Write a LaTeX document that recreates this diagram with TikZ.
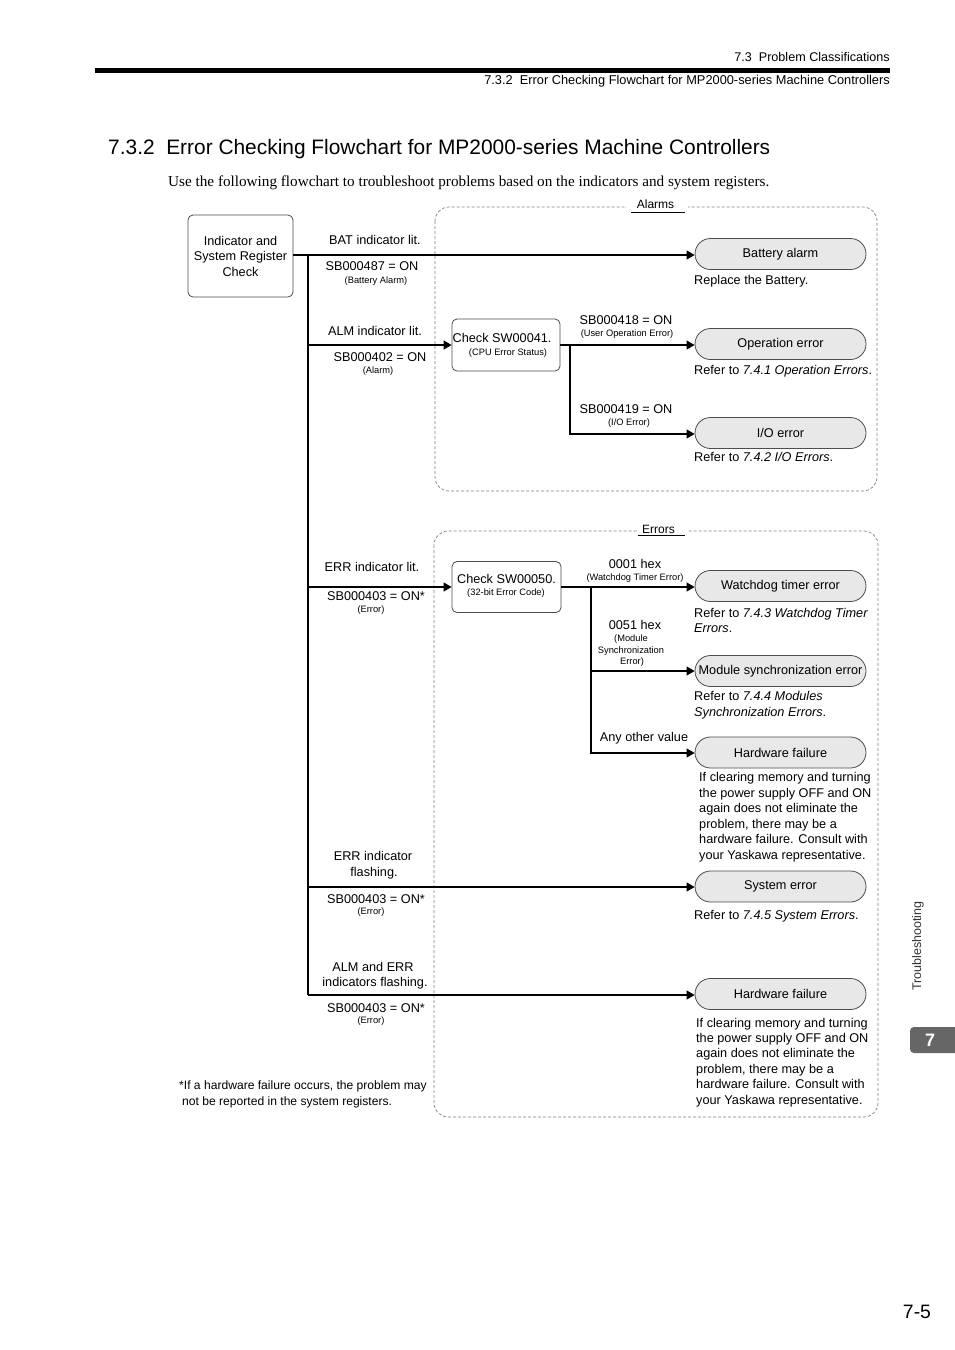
\documentclass[tikz,border=0pt]{standalone}
\usepackage{fontspec}
\setmainfont{Liberation Sans}
\newfontfamily\tmsfont{Liberation Serif}
\usetikzlibrary{arrows.meta}
\newcommand\fL{\fontsize{12.7}{15.5}\selectfont}
\newcommand\fS{\fontsize{9.3}{11.5}\selectfont}
\begin{document}
\begin{tikzpicture}[x=1pt,y=-1pt,
 lbl/.style={anchor=base,inner sep=0pt,font=\fL},
 sml/.style={anchor=base,inner sep=0pt,font=\fS},
 desc/.style={anchor=base west,inner sep=0pt,font=\fL},
 term/.style={draw=black!70,fill=black!9,rounded corners=15.5pt,minimum width=171pt,minimum height=31pt,inner sep=0pt,font=\fL,line width=0.8pt},
 chkbox/.style={draw=black!70,rounded corners=5pt,line width=0.8pt,inner sep=0pt},
 conn/.style={line width=1.1pt},
 arr/.style={conn,-{Triangle[length=8pt,width=9pt]}},
 grp/.style={draw=black!50,dash pattern=on 3pt off 2pt,rounded corners=14pt,line width=0.7pt}
]
\useasboundingbox[fill=white] (0,0) rectangle (954,1350);

% header
\node[anchor=base east,inner sep=0pt,font=\fontsize{12.6}{14}\selectfont] (hdr1) at (890,61.5) {7.3\ \ Problem Classifications};
\fill (95,67.7) rectangle (890,73.3);
\node[anchor=base east,inner sep=0pt,font=\fontsize{12.8}{14}\selectfont] (hdr2) at (890,84.5) {7.3.2\ \ Error Checking Flowchart for MP2000-series Machine Controllers};
\node[anchor=base west,inner sep=0pt,font=\fontsize{20.9}{24}\selectfont] (title) at (108,154.5) {7.3.2\ \ Error Checking Flowchart for MP2000-series Machine Controllers};
\node[anchor=base west,inner sep=0pt,font=\tmsfont\fontsize{15.2}{17}\selectfont] (intro) at (168,186) {Use the following flowchart to troubleshoot problems based on the indicators and system registers.};

% groups
\draw[grp] (435,207) rectangle (877,491);
\fill[white] (627,199) rectangle (688,212);
\node[lbl,font=\fontsize{12}{14}\selectfont] (alarmsLbl) at (655.5,208.5) {Alarms};
\draw[line width=1pt] (631,212.5) -- (685,212.5);

\draw[grp] (434,531) rectangle (878,1117);
\fill[white] (637,523) rectangle (688,535);
\node[lbl,font=\fontsize{12}{14}\selectfont] (errorsLbl) at (658.5,533.3) {Errors};
\draw[line width=1pt] (638,535.5) -- (685,535.5);

% start box
\node[chkbox,minimum width=105pt,minimum height=82pt,align=center,font=\fL] (start) at (240.5,256) {Indicator and\\System Register\\Check};

% check boxes
\node[chkbox,minimum width=108pt,minimum height=52pt] (chk1) at (506,345) {};
\node[anchor=base west,inner sep=0pt,font=\fL] (chk1t) at (452.5,342.5) {Check SW00041.};
\node[sml] (chk1s) at (508,355.3) {(CPU Error Status)};
\node[chkbox,minimum width=109pt,minimum height=51pt] (chk2) at (506.5,587) {};
\node[lbl] (chk2t) at (506.5,583.5) {Check SW00050.};
\node[sml] (chk2s) at (506,595.3) {(32-bit Error Code)};

% terminals
\node[term] (tBat) at (780.5,254) {Battery alarm};
\node[term] (tOp) at (780.5,344) {Operation error};
\node[term] (tIO) at (780.5,433) {I/O error};
\node[term] (tWd) at (780.5,586) {Watchdog timer error};
\node[term] (tMod) at (780.5,671) {Module synchronization error};
\node[term] (tHw) at (780.5,752.5) {Hardware failure};
\node[term] (tSys) at (780.5,886.5) {System error};
\node[term] (tHw2) at (780.5,994) {Hardware failure};

% connectors
\coordinate (jBat) at (308,255);
\coordinate (jAlm) at (308,345);
\coordinate (jErr) at (308,587);
\coordinate (jFl) at (308,887);
\coordinate (jAE) at (308,995);
\draw[conn] (jBat) -- (jAE);
\draw[arr] (start.east |- jBat) -- (tBat.west |- jBat);
\draw[arr] (jAlm) -- (chk1.west);
\draw[arr] (chk1.east) -- (tOp.west |- chk1.east);
\coordinate (b1) at (570,345);
\draw[arr] (b1) |- (tIO.west |- 0,434);
\draw[arr] (jErr) -- (chk2.west);
\draw[arr] (chk2.east) -- (tWd.west |- chk2.east);
\coordinate (b2) at (591,587);
\draw[arr] (b2) |- (tMod.west);
\draw[arr] (b2) |- (tHw.west |- 0,753);
\draw[arr] (jFl) -- (tSys.west |- jFl);
\draw[arr] (jAE) -- (tHw2.west |- jAE);

% left labels
\node[lbl] (l1) at (375,244.5) {BAT indicator lit.};
\node[lbl] (l2) at (372,270.5) {SB000487 = ON};
\node[sml] (l3) at (376,283.3) {(Battery Alarm)};
\node[lbl] (l4) at (375,335.5) {ALM indicator lit.};
\node[lbl] (l5) at (380,361.5) {SB000402 = ON};
\node[sml] (l6) at (378,373.3) {(Alarm)};
\node[lbl] (l7) at (372,571.5) {ERR indicator lit.};
\node[lbl] (l8) at (376,600.5) {SB000403 = ON*};
\node[sml] (l9) at (371,612.3) {(Error)};
\node[lbl] (l10) at (373,860.5) {ERR indicator};
\node[lbl] (l11) at (374,876.5) {flashing.};
\node[lbl] (l12) at (376,903.5) {SB000403 = ON*};
\node[sml] (l13) at (371,914.3) {(Error)};
\node[lbl] (l14) at (373,971.5) {ALM and ERR};
\node[lbl] (l15) at (375,986.5) {indicators flashing.};
\node[lbl] (l16) at (376,1012.5) {SB000403 = ON*};
\node[sml] (l17) at (371,1023.3) {(Error)};

% branch labels
\node[lbl] (m1) at (626,324.5) {SB000418 = ON};
\node[sml] (m2) at (627,336.3) {(User Operation Error)};
\node[lbl] (m3) at (626,413.5) {SB000419 = ON};
\node[sml] (m4) at (629,425.3) {(I/O Error)};
\node[lbl] (m5) at (635,568.5) {0001 hex};
\node[sml] (m6) at (635,580.3) {(Watchdog Timer Error)};
\node[lbl] (m7) at (635,629.5) {0051 hex};
\node[sml] (m8) at (631,641.3) {(Module};
\node[sml] (m9) at (631,653.3) {Synchronization};
\node[sml] (m10) at (632,664.3) {Error)};
\node[lbl] (m11) at (644,741.5) {Any other value};

% descriptions
\node[desc] (d1) at (694,284.5) {Replace the Battery.};
\node[desc] (d2) at (694,374.5) {Refer to \textit{7.4.1 Operation Errors}.};
\node[desc] (d3) at (694,461.5) {Refer to \textit{7.4.2 I/O Errors}.};
\node[desc] (d4) at (694,617.5) {Refer to \textit{7.4.3 Watchdog Timer}};
\node[desc] (d5) at (694,632.5) {\textit{Errors}.};
\node[desc] (d6) at (694,700.5) {Refer to \textit{7.4.4 Modules}};
\node[desc] (d7) at (694,716.5) {\textit{Synchronization Errors}.};
\node[desc] (h1) at (699,781.5) {If clearing memory and turning};
\node[desc] (h2) at (699,797) {the power supply OFF and ON};
\node[desc] (h3) at (699,812.5) {again does not eliminate the};
\node[desc] (h4) at (699,828) {problem, there may be a};
\node[desc] (h5) at (699,843.5) {hardware failure. Consult with};
\node[desc] (h6) at (699,859.5) {your Yaskawa representative.};
\node[desc] (d8) at (694,919.5) {Refer to \textit{7.4.5 System Errors}.};
\node[desc] (k1) at (696,1027.5) {If clearing memory and turning};
\node[desc] (k2) at (696,1042.5) {the power supply OFF and ON};
\node[desc] (k3) at (696,1057.5) {again does not eliminate the};
\node[desc] (k4) at (696,1073.5) {problem, there may be a};
\node[desc] (k5) at (696,1088.5) {hardware failure. Consult with};
\node[desc] (k6) at (696,1104.5) {your Yaskawa representative.};

% footnote
\node[desc,font=\fontsize{12.1}{15}\selectfont] (f1) at (179,1089.5) {*If a hardware failure occurs, the problem may};
\node[desc,font=\fontsize{12.1}{15}\selectfont] (f2) at (182,1105.5) {not be reported in the system registers.};

% side tab
\node[rotate=90,inner sep=0pt,font=\fontsize{12.5}{14}\selectfont,text=black!80] (side) at (918,946) {Troubleshooting};
\fill[black!60,rounded corners=4pt] (910,1027) rectangle (962,1053);
\node[text=white,inner sep=0pt,font=\bfseries\fontsize{18}{20}\selectfont] (tab7) at (930,1040) {7};
\node[inner sep=0pt,font=\fontsize{19.4}{22}\selectfont] (pg) at (917,1312) {7-5};
\end{tikzpicture}
\end{document}
